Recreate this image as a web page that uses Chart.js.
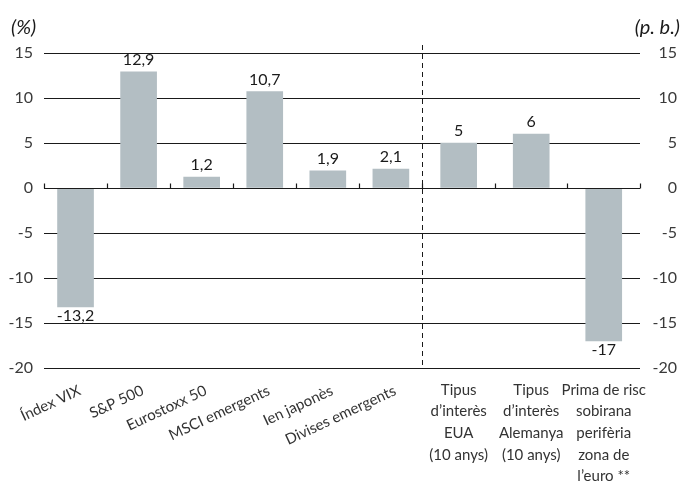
<!DOCTYPE html>
<html lang="ca">
<head>
<meta charset="utf-8">
<script src="https://cdn.jsdelivr.net/npm/chart.js@4.4.1/dist/chart.umd.min.js"></script>
<style>
  html, body { margin: 0; padding: 0; background: #fff; }
  #grafic { display: block; }
</style>
</head>
<body>
<canvas id="grafic" width="692" height="487"></canvas>
<script>
// categories: les 6 primeres en %, les 3 últimes en punts bàsics
const categories = [
    'Índex VIX', 'S&P 500', 'Eurostoxx 50', 'MSCI emergents', 'Ien japonès', 'Divises emergents',
    ['Tipus', 'd’interès', 'EUA', '(10 anys)'],
    ['Tipus', 'd’interès', 'Alemanya', '(10 anys)'],
    ['Prima de risc', 'sobirana', 'perifèria', 'zona de', 'l’euro **']
];
const variacio = [-13.2, 12.9, 1.2, 10.7, 1.9, 2.1, 5, 6, -17];
const ticksY = [15, 10, 5, 0, -5, -10, -15, -20];
const unitats = ['(%)', '(p. b.)'];

const N_PERCENT = 6;      // categories del bloc esquerre
const AMPLE_DRETA = 1.15; // amplada relativa de les cel·les del bloc dret

const FONT = 'Lato, "Open Sans", sans-serif';

function posicio(i) {
    if (i < N_PERCENT) return i;
    return N_PERCENT - 0.5 + AMPLE_DRETA * (i - N_PERCENT + 0.5);
}

function limits() {
    const l = [];
    for (let i = 0; i <= N_PERCENT; i++) l.push(i - 0.5);
    for (let j = 1; j <= categories.length - N_PERCENT; j++) l.push(N_PERCENT - 0.5 + AMPLE_DRETA * j);
    return l;
}

const format = v => String(v).replace('.', ',');

const decoracio = {
    id: 'decoracio',
    afterDatasetsDraw(chart) {
        const { ctx, chartArea, scales } = chart;
        const x = scales.x, y = scales.y;
        const y0 = Math.round(y.getPixelForValue(0)) + 0.5;

        ctx.save();
        // eix zero i marques
        ctx.strokeStyle = '#1a1a1a';
        ctx.lineWidth = 1.2;
        ctx.beginPath();
        ctx.moveTo(chartArea.left, y0);
        ctx.lineTo(chartArea.right, y0);
        limits().forEach(v => {
            const px = Math.round(x.getPixelForValue(v)) + 0.5;
            ctx.moveTo(px, y0);
            ctx.lineTo(px, y0 - 5);
        });
        ctx.stroke();

        // separador discontinu
        const xs = Math.round(x.getPixelForValue(N_PERCENT - 0.5)) + 0.5;
        ctx.lineWidth = 1;
        ctx.setLineDash([5, 4]);
        ctx.beginPath();
        ctx.moveTo(xs, chartArea.top - 8);
        ctx.lineTo(xs, chartArea.bottom - 2);
        ctx.stroke();
        ctx.setLineDash([]);

        // etiquetes de valor
        const meta = chart.getDatasetMeta(0);
        ctx.fillStyle = '#1a1a1a';
        ctx.font = '16px ' + FONT;
        ctx.textAlign = 'center';
        meta.data.forEach((barra, i) => {
            const v = variacio[i];
            if (v >= 0) {
                ctx.textBaseline = 'alphabetic';
                ctx.fillText(format(v), barra.x, barra.y - 7);
            } else {
                ctx.textBaseline = 'top';
                ctx.fillText(format(v), barra.x, barra.y + 1);
            }
        });

        // etiquetes de categoria
        ctx.fillStyle = '#333';
        ctx.font = '15px ' + FONT;
        categories.forEach((c, i) => {
            const cx = x.getPixelForValue(posicio(i));
            if (Array.isArray(c)) {
                ctx.textAlign = 'center';
                ctx.textBaseline = 'middle';
                c.forEach((linia, k) => ctx.fillText(linia, cx, 390 + k * 21.6));
            } else {
                ctx.save();
                ctx.translate(cx + 1, chartArea.bottom + 15);
                ctx.rotate(-25 * Math.PI / 180);
                ctx.textAlign = 'right';
                ctx.textBaseline = 'top';
                ctx.fillText(c, 0, 0);
                ctx.restore();
            }
        });

        // unitats
        ctx.fillStyle = '#1a1a1a';
        ctx.font = 'italic 20px ' + FONT;
        ctx.textBaseline = 'middle';
        ctx.textAlign = 'left';
        ctx.fillText(unitats[0], 11, 28);
        ctx.textAlign = 'right';
        ctx.fillText(unitats[1], 680, 28);
        ctx.restore();
    }
};

function eixY(posicio, ambGraella, padding) {
    return {
        type: 'linear',
        position: posicio,
        min: ticksY[ticksY.length - 1],
        max: ticksY[0],
        afterBuildTicks: s => { s.ticks = ticksY.map(v => ({ value: v })); },
        afterFit: s => { s.width = posicio === 'left' ? 44 : 37; },
        border: { display: false },
        grid: {
            display: ambGraella,
            drawTicks: false,
            color: '#1a1a1a',
            lineWidth: 1
        },
        ticks: {
            padding: padding,
            color: '#3a3a3a',
            font: { family: FONT, size: 16 },
            crossAlign: posicio === 'left' ? 'near' : 'far',
            callback: v => String(v)
        }
    };
}

window.onload = () => {
    const ctx = document.getElementById('grafic').getContext('2d');
    new Chart(ctx, {
        type: 'bar',
        data: {
            datasets: [{
                data: variacio.map((v, i) => ({ x: posicio(i), y: v })),
                backgroundColor: '#b3bec3',
                borderWidth: 0,
                barThickness: 36
            }]
        },
        options: {
            responsive: false,
            animation: false,
            devicePixelRatio: 1,
            layout: { padding: { top: 53, bottom: 119, left: 0, right: 15 } },
            plugins: {
                legend: { display: false },
                tooltip: { enabled: false }
            },
            scales: {
                x: {
                    type: 'linear',
                    display: false,
                    offset: false,
                    min: -0.5,
                    max: limits()[limits().length - 1]
                },
                y: eixY('left', true, 11),
                y2: eixY('right', false, 10)
            }
        },
        plugins: [decoracio]
    });
};
</script>
</body>
</html>
